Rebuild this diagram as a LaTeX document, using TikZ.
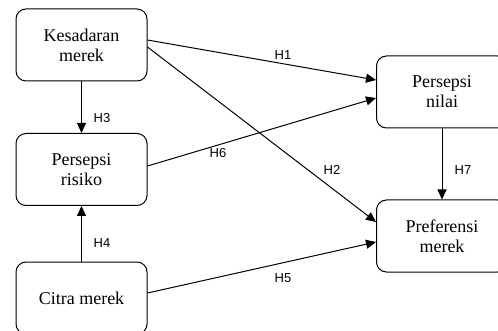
\documentclass[tikz,border=0pt]{standalone}
\usepackage{fontspec}
\setmainfont{Liberation Serif}
\newfontfamily\labfont{Liberation Sans}
\usetikzlibrary{arrows.meta}
\begin{document}
\begin{tikzpicture}[x=1pt,y=-1pt,
  vbox/.style={draw,line width=1pt,rounded corners=10pt,minimum width=131pt,minimum height=72pt,inner sep=0pt,align=center,font=\fontsize{18}{20}\selectfont},
  conn/.style={line width=1pt,-{Triangle[length=10pt,width=9pt]}},
  hlab/.style={font=\labfont\fontsize{13}{14}\selectfont,inner sep=0pt}]
\useasboundingbox (0,0) rectangle (498,331);
\clip (0,0) rectangle (498,331);
\node[vbox] (kes) at (81.5,45) {Kesadaran\\merek};
\node[vbox] (ris) at (81.5,169.5) {Persepsi\\risiko};
\node[vbox] (cit) at (81.5,298) {Citra merek};
\node[vbox] (nil) at (442,92) {Persepsi\\nilai};
\node[vbox] (pre) at (442,236) {Preferensi\\merek};
\draw[conn] (kes.south) -- (ris.north);
\draw[conn] (cit.north) -- (ris.south);
\draw[conn] (nil.south) -- (pre.north);
\draw[conn] ([yshift=5pt]kes.east) -- ([yshift=12pt]nil.west);
\draw[conn] ([yshift=-2pt]kes.east) -- ([yshift=14pt]pre.west);
\draw[conn] ([yshift=3.5pt]ris.east) -- ([yshift=-6pt]nil.west);
\draw[conn] ([yshift=5pt]cit.east) -- ([yshift=-6pt]pre.west);
\node[hlab] (h1) at (283,55) {H1};
\node[hlab] (h2) at (332,170) {H2};
\node[hlab] (h3) at (102,118) {H3};
\node[hlab] (h4) at (102,243) {H4};
\node[hlab] (h5) at (283,278) {H5};
\node[hlab] (h6) at (218,153) {H6};
\node[hlab] (h7) at (463,170) {H7};
\end{tikzpicture}
\end{document}
